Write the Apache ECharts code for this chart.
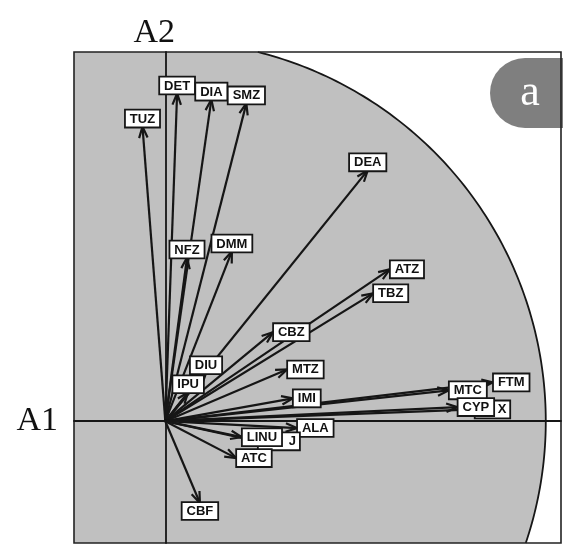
<!DOCTYPE html>
<html>
<head>
<meta charset="utf-8">
<script src="https://cdn.jsdelivr.net/npm/echarts@6/dist/echarts.min.js"></script>
<style>
  html, body { margin: 0; padding: 0; background: #ffffff; }
  #chart { width: 563px; height: 545px; }
</style>
</head>
<body>
<div id="chart"></div>
<script>
// Variable loadings on the first two axes (A1, A2) of the ordination.
// Order matters: later entries are drawn on top of earlier ones.
const variables = ['TUZ', 'DET', 'DIA', 'SMZ', 'DEA', 'NFZ', 'DMM', 'ATZ', 'TBZ', 'CBZ',
                   'DIU', 'IPU', 'MTZ', 'IMI', 'FTM', 'MTC', 'X', 'CYP', 'ALA', 'J',
                   'LINU', 'ATC', 'CBF'];
const loadingA1 = [-0.060, 0.031, 0.121, 0.213, 0.532, 0.057, 0.175, 0.590, 0.546, 0.283,
                    0.107, 0.060, 0.320, 0.335, 0.861, 0.745, 0.813, 0.768, 0.346, 0.243,
                    0.201, 0.186, 0.091];
const loadingA2 = [0.774, 0.861, 0.845, 0.835, 0.659, 0.430, 0.446, 0.399, 0.336, 0.234,
                    0.126, 0.076, 0.136, 0.060, 0.102, 0.081, 0.031, 0.037, -0.018, -0.053,
                    -0.042, -0.097, -0.215];

// Visible window of the biplot (in loading units) and the unit correlation circle.
const axisA1Range = [-0.24, 1.04];
const axisA2Range = [-0.32, 0.97];
const circleRadius = 1;

const points = variables.map((name, i) => [loadingA1[i], loadingA2[i], name]);

const INK = '#161616';
const labelFont = 'bold 13px "Liberation Sans", Arial, sans-serif';
// Some labels sit partly under a neighbouring box, so they carry extra left padding.
const labelPadding = { J: [2, 3, 1, 30], X: [2, 3, 1, 22] };

// Shaded region: the part of the plotting window inside the unit circle.
function renderDisc(params, api) {
  const [x0, x1] = axisA1Range;
  const [y0, y1] = axisA2Range;
  const aTop = Math.asin(Math.min(1, y1 / circleRadius));
  const aBot = Math.asin(Math.max(-1, y0 / circleRadius));
  const arc = [];
  const n = 120;
  for (let k = 0; k <= n; k++) {
    const a = aTop + (aBot - aTop) * k / n;
    arc.push(api.coord([circleRadius * Math.cos(a), circleRadius * Math.sin(a)]));
  }
  const poly = [api.coord([x0, y1])].concat(arc, [api.coord([x0, y0])]);
  return {
    type: 'group',
    children: [
      { type: 'polygon', shape: { points: poly }, style: { fill: '#c0c0c0', stroke: null } },
      { type: 'polyline', shape: { points: arc }, style: { stroke: INK, lineWidth: 1.8, fill: null } }
    ]
  };
}

// Arrow from the origin to a loading, with an open V-shaped head.
function renderArrow(params, api) {
  const o = api.coord([0, 0]);
  const t = api.coord([api.value(0), api.value(1)]);
  const ang = Math.atan2(t[1] - o[1], t[0] - o[0]);
  const len = 12, half = 0.36;
  const p1 = [t[0] - len * Math.cos(ang - half), t[1] - len * Math.sin(ang - half)];
  const p2 = [t[0] - len * Math.cos(ang + half), t[1] - len * Math.sin(ang + half)];
  return {
    type: 'group',
    children: [
      { type: 'line', shape: { x1: o[0], y1: o[1], x2: t[0], y2: t[1] },
        style: { stroke: INK, lineWidth: 2.2 } },
      { type: 'polyline', shape: { points: [p1, t, p2] },
        style: { stroke: INK, lineWidth: 2.2, fill: null, lineJoin: 'miter' } }
    ]
  };
}

// Boxed variable name placed at the arrow tip: above steep arrows, beside shallow ones.
function renderLabel(params, api) {
  const x = api.value(0), y = api.value(1);
  const name = variables[params.dataIndex];
  const t = api.coord([x, y]);
  const deg = Math.atan2(y, x) * 180 / Math.PI;
  let align = 'left', vAlign = 'middle', px = t[0] + 1, py = t[1];
  if (deg >= 45) { align = 'center'; vAlign = 'bottom'; px = t[0]; }
  else if (deg <= -45) { align = 'center'; vAlign = 'top'; px = t[0]; }
  return {
    type: 'text',
    x: px, y: py,
    style: {
      text: name,
      align: align,
      verticalAlign: vAlign,
      font: labelFont,
      fill: '#111',
      backgroundColor: '#ffffff',
      borderColor: INK,
      borderWidth: 1.8,
      padding: labelPadding[name] || [2, 4, 1, 4]
    }
  };
}

const chart = echarts.init(document.getElementById('chart'), null, { renderer: 'canvas' });

chart.setOption({
  animation: false,
  backgroundColor: '#ffffff',
  grid: {
    left: 74, right: 2, top: 52, bottom: 2,
    show: true, z: 3,
    backgroundColor: 'transparent',
    borderColor: '#222', borderWidth: 1.6
  },
  xAxis: {
    type: 'value',
    min: axisA1Range[0], max: axisA1Range[1],
    z: 3,
    name: 'A1',
    nameLocation: 'start',
    nameGap: 16,
    nameTextStyle: {
      fontFamily: '"Liberation Serif", "Times New Roman", serif',
      fontSize: 34, color: '#111',
      padding: [0, 0, 28, 0]
    },
    axisLine: { show: true, onZero: true, lineStyle: { color: INK, width: 1.8 } },
    axisTick: { show: false },
    axisLabel: { show: false },
    splitLine: { show: false }
  },
  yAxis: {
    type: 'value',
    min: axisA2Range[0], max: axisA2Range[1],
    z: 3,
    name: 'A2',
    nameLocation: 'end',
    nameGap: 2,
    nameTextStyle: {
      fontFamily: '"Liberation Serif", "Times New Roman", serif',
      fontSize: 34, color: '#111',
      align: 'center',
      padding: [0, 22, 0, 0]
    },
    axisLine: { show: true, onZero: true, lineStyle: { color: INK, width: 1.8 } },
    axisTick: { show: false },
    axisLabel: { show: false },
    splitLine: { show: false }
  },
  graphic: [
    {
      type: 'group', z: 20,
      children: [
        { type: 'rect', shape: { x: 490, y: 58, width: 80, height: 70, r: [35, 0, 0, 35] },
          style: { fill: '#7f7f7f' } },
        { type: 'text', x: 530, y: 93,
          style: { text: 'a', fill: '#ffffff', align: 'center', verticalAlign: 'middle',
                   font: '44px "Liberation Serif", "Times New Roman", serif' } }
      ]
    }
  ],
  series: [
    { type: 'custom', name: 'circle', z: 1, silent: true,
      data: [[0, 0]], renderItem: renderDisc },
    { type: 'custom', name: 'arrows', z: 4, silent: true,
      data: points, renderItem: renderArrow },
    { type: 'custom', name: 'labels', z: 5, silent: true,
      data: points, renderItem: renderLabel }
  ]
});
</script>
</body>
</html>
